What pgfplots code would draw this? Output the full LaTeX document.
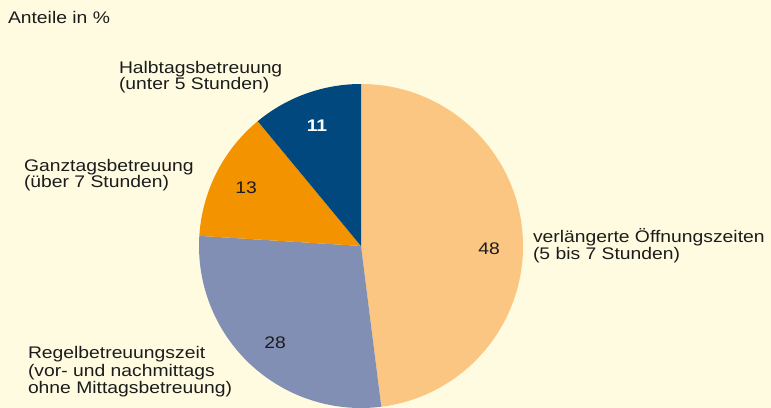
\documentclass[border=0pt]{standalone}
\usepackage{pgfplots}
\usepackage{pgfplotstable}
\pgfplotsset{compat=1.18}
\usepackage{fontspec}
\setmainfont{Liberation Sans}[FakeStretch=1.15]
\definecolor{bg}{HTML}{FFFBE0}
\definecolor{cA}{HTML}{FAC682}
\definecolor{cB}{HTML}{828FB4}
\definecolor{cC}{HTML}{F39300}
\definecolor{cD}{HTML}{00487D}
\definecolor{txt}{HTML}{1C1C1C}
\pgfplotstableread{
value col
48 cA
28 cB
13 cC
11 cD
}\pietable
\tikzset{lbl/.style={font=\fontsize{16.8bp}{16bp}\selectfont, text=txt, inner sep=0pt, outer sep=0pt}}
\begin{document}
\fontsize{16.8bp}{16bp}\selectfont
\begin{tikzpicture}
\fill[bg] (0,0) rectangle (771bp,408bp);
\begin{axis}[
  at={(0,0)}, anchor=south west,
  scale only axis, width=771bp, height=408bp,
  xmin=0, xmax=771, ymin=0, ymax=408, y dir=reverse,
  hide axis, clip=false,
]
\pgfplotsextra{%
  \gdef\startang{90}%
  \pgfplotsforeachungrouped \i in {0,...,3}{%
    \pgfplotstablegetelem{\i}{value}\of{\pietable}\let\val\pgfplotsretval
    \pgfplotstablegetelem{\i}{col}\of{\pietable}\let\col\pgfplotsretval
    \pgfmathsetmacro\endang{\startang-3.6*\val}%
    \fill[\col] (axis cs:361,246) -- ++(\startang:162bp) arc[start angle=\startang, end angle=\endang, radius=162bp] -- cycle;
    \global\let\startang\endang
  }%
}
\node[lbl, anchor=base west] at (axis cs:8,24) {Anteile in \%};
\node[lbl, anchor=base west] at (axis cs:119,74) {Halbtagsbetreuung};
\node[lbl, anchor=base west] at (axis cs:119,90) {(unter 5 Stunden)};
\node[lbl, anchor=base west] at (axis cs:24,171) {Ganztagsbetreuung};
\node[lbl, anchor=base west] at (axis cs:24,187) {(über 7 Stunden)};
\node[lbl, anchor=base west] at (axis cs:28,358) {Regelbetreuungszeit};
\node[lbl, anchor=base west] at (axis cs:28,376) {(vor- und nachmittags};
\node[lbl, anchor=base west] at (axis cs:28,393) {ohne Mittagsbetreuung)};
\node[lbl, anchor=base west] at (axis cs:533,242) {verlängerte Öffnungszeiten};
\node[lbl, anchor=base west] at (axis cs:533,259) {(5 bis 7 Stunden)};
\node[lbl, anchor=base] at (axis cs:489,254) {48};
\node[lbl, anchor=base] at (axis cs:275,348) {28};
\node[lbl, anchor=base] at (axis cs:246,193) {13};
\node[lbl, anchor=base, text=white, font=\fontsize{16.8bp}{16bp}\selectfont\bfseries] at (axis cs:317,131) {11};
\end{axis}
\pgfresetboundingbox
\useasboundingbox (0,0) rectangle (771bp,408bp);
\end{tikzpicture}
\end{document}
